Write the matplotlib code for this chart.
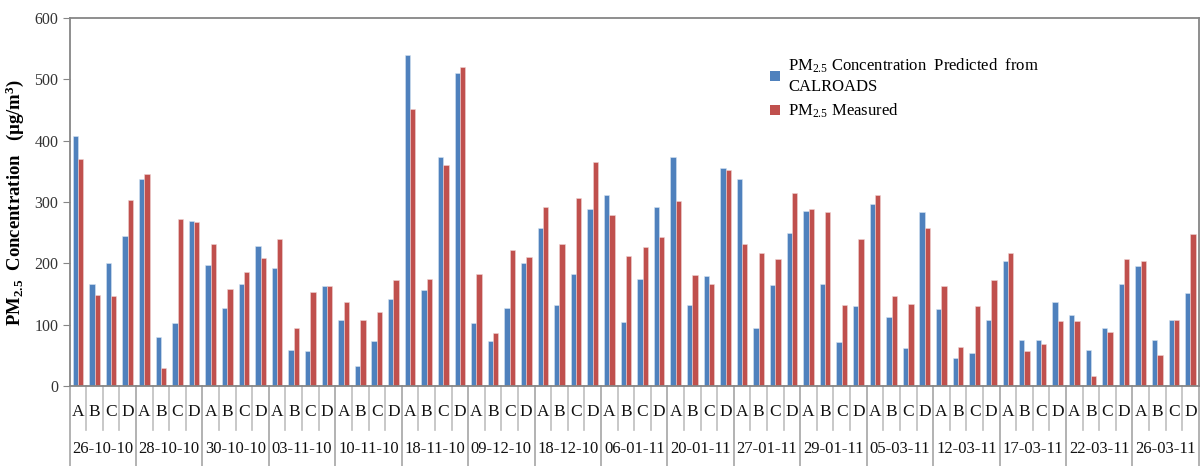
import numpy as np
import matplotlib.pyplot as plt
import matplotlib.transforms as mtransforms
from matplotlib.patches import Patch

plt.rcParams['font.family'] = 'Liberation Serif'
plt.rcParams['mathtext.fontset'] = 'custom'
plt.rcParams['mathtext.rm'] = 'Liberation Serif'
plt.rcParams['mathtext.it'] = 'Liberation Serif:italic'
plt.rcParams['mathtext.bf'] = 'Liberation Serif:bold'

dates = ["26-10-10", "28-10-10", "30-10-10", "03-11-10", "10-11-10", "18-11-10",
         "09-12-10", "18-12-10", "06-01-11", "20-01-11", "27-01-11", "29-01-11",
         "05-03-11", "12-03-11", "17-03-11", "22-03-11", "26-03-11"]
sites = ["A", "B", "C", "D"]

# PM2.5 predicted from CALROADS, 4 sites per date
predicted = [407, 167, 200, 245,
             337, 80, 102, 269,
             198, 127, 167, 229,
             193, 59, 57, 163,
             108, 33, 73, 142,
             540, 156, 373, 510,
             103, 73, 127, 200,
             257, 132, 182, 288,
             311, 104, 175, 292,
             373, 132, 179, 356,
             337, 94, 165, 250,
             286, 167, 71, 130,
             297, 113, 61, 283,
             125, 45, 54, 108,
             203, 75, 75, 137,
             115, 59, 94, 167,
             195, 75, 108, 151]

# PM2.5 measured
measured = [370, 149, 146, 304,
            345, 29, 272, 267,
            231, 158, 186, 208,
            240, 94, 153, 163,
            137, 108, 120, 173,
            451, 175, 361, 521,
            182, 87, 222, 210,
            292, 231, 306, 365,
            278, 212, 227, 243,
            302, 181, 167, 352,
            231, 217, 207, 314,
            288, 283, 132, 240,
            311, 146, 134, 257,
            163, 63, 130, 173,
            217, 57, 69, 106,
            106, 16, 88, 207,
            203, 50, 108, 247]

blue = '#4F81BD'
red = '#C0504D'

n = len(predicted)
x = np.arange(n)
w = 0.32

fig = plt.figure(figsize=(12, 4.66), dpi=100)
ax = fig.add_axes([0.058, 0.172, 0.941, 0.789])

ax.bar(x - w / 2, predicted, w, color=blue, edgecolor='#D6E3F1', linewidth=0.4)
ax.bar(x + w / 2, measured, w, color=red, edgecolor='#EED3D2', linewidth=0.4)

ax.set_xlim(-0.5, n - 0.5)
ax.set_ylim(0, 600)
ax.set_yticks(range(0, 601, 100))
ax.set_xticks([])
ax.tick_params(axis='y', direction='out', length=5, color='#868686', labelsize=11.5,
               labelcolor='#333333', pad=3)
for s in ax.spines.values():
    s.set_color('#868686')
    s.set_linewidth(1.3)

ax.set_ylabel(r"$\mathbf{PM_{2.5}}$  Concentration   (µg/m$^{\mathbf{3}}$)",
              fontsize=13.5, fontweight='bold', labelpad=6)

# multi-level category axis drawn below the plot
trans = mtransforms.blended_transform_factory(ax.transData, fig.transFigure)
y_axis = 0.172
y_short = 1 - 430 / 466
y_long = 0.0
for i in range(n + 1):
    xb = i - 0.5
    if i % 4 == 0:
        ax.plot([xb, xb], [y_axis, y_long], transform=trans, color='#A6A6A6',
                lw=1.2, clip_on=False)
    else:
        ax.plot([xb, xb], [y_axis, y_short], transform=trans, color='#BFBFBF',
                lw=1.2, clip_on=False)

for i in range(n):
    ax.text(i, 1 - 412 / 466, sites[i % 4], transform=trans, ha='center',
            va='center', fontsize=12.5, color='#111111')
for g, d in enumerate(dates):
    ax.text(g * 4 + 1.5, 1 - 449 / 466, d, transform=trans, ha='center',
            va='center', fontsize=12, color='#111111')

handles = [Patch(facecolor=blue, edgecolor='none'),
           Patch(facecolor=red, edgecolor='none')]
labels = ["PM$_{2.5}$ Concentration  Predicted  from\nCALROADS",
          "PM$_{2.5}$ Measured"]
leg = ax.legend(handles, labels, loc='upper left', bbox_to_anchor=(0.636, 0.893),
                bbox_transform=fig.transFigure, frameon=False, fontsize=12,
                handlelength=0.6, handleheight=0.6, handletextpad=0.5,
                labelspacing=0.4, borderaxespad=0)
for t in leg.get_texts():
    t.set_linespacing(1.35)

fig.savefig('out.png', dpi=100)
